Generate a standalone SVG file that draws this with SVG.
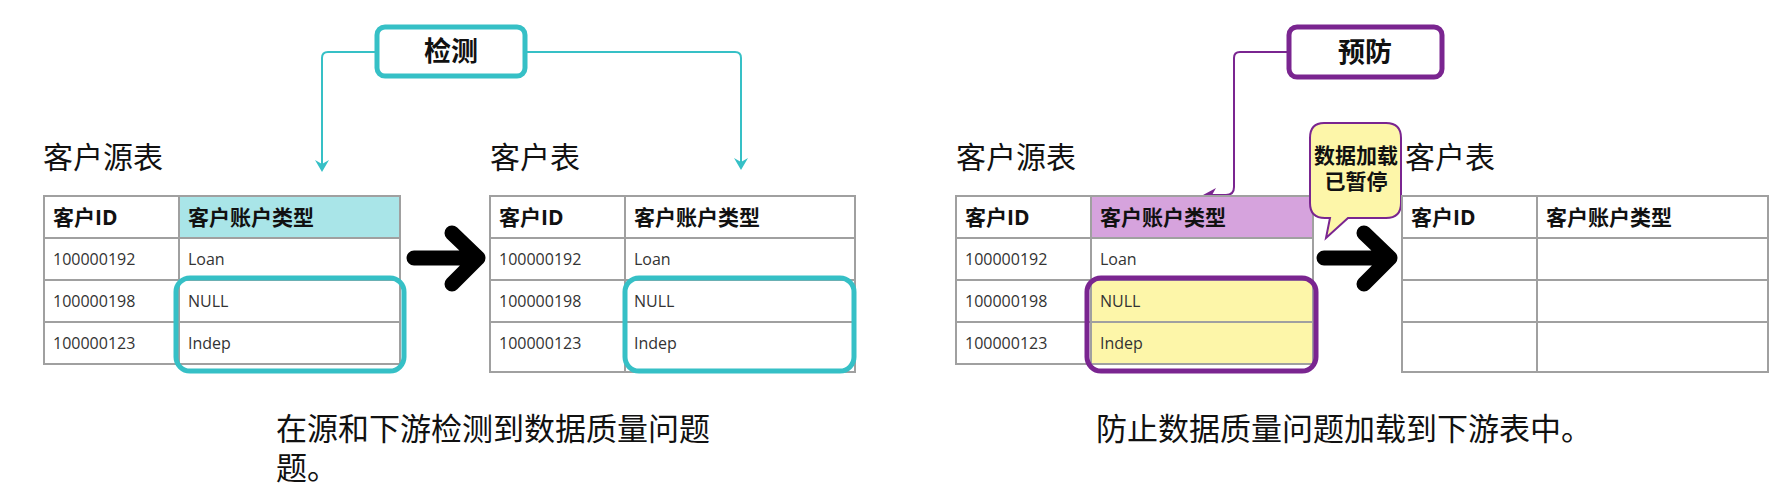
<svg xmlns="http://www.w3.org/2000/svg" width="1782" height="504" viewBox="0 0 1782 504">
<style>
text{font-family:"Open Sans","Noto Sans CJK SC",sans-serif;fill:#111}
.t{font-size:30px}
.h{font-size:21px;font-weight:bold}
.c{font-size:16px;fill:#333}
.cap{font-size:31px}
.grid{fill:none;stroke:#a0a0a0;stroke-width:2}
.big{fill:none;stroke:#000;stroke-width:15;stroke-linecap:round;stroke-linejoin:round}
.cy{stroke:#36c0c6;fill:none}
.pu{stroke:#7a2590;fill:none}
</style>
<rect width="1782" height="504" fill="#fff"/>
<g id="connectors">
<path class="cy" stroke-width="2" d="M375,52 H328 Q322,52 322,58 V168"/>
<path d="M315,160 L322,172 L329,160 L322,164z" fill="#36c0c6"/>
<path class="cy" stroke-width="2" d="M527,52 H735 Q741,52 741,58 V166"/>
<path d="M734,158 L741,170 L748,158 L741,162z" fill="#36c0c6"/>
<path class="pu" stroke-width="2" d="M1287,52 H1240 Q1234,52 1234,58 V187 Q1234,195 1226,195 H1210"/>
<path d="M1216,188 L1203,195 L1216,202 L1212,195z" fill="#7a2590"/>
<path class="big" d="M414,258 H476 M452,233 L478,258 L452,284"/>
<path class="big" d="M1324,258 H1388 M1364,233 L1390,258 L1364,284"/>
</g>
<g id="detect">
<rect x="377" y="27" width="148" height="49" rx="8" fill="#fff" stroke="#36c0c6" stroke-width="5"/>
<text x="451" y="61" text-anchor="middle" style="font-size:27px;font-weight:bold">检测</text>
</g>
<g id="src1">
<text class="t" x="43" y="168">客户源表</text>
<rect x="179" y="196" width="221" height="42" fill="#a9e5e8"/>
<path class="grid" d="M44,196 H400 V364 H44 Z M179,196 V364 M44,238 H400 M44,280 H400 M44,322 H400"/>
<text class="h" x="53" y="225">客户ID</text><text class="h" x="188" y="225">客户账户类型</text>
<text class="c" x="53" y="265">100000192</text><text class="c" x="188" y="265">Loan</text>
<text class="c" x="53" y="307">100000198</text><text class="c" x="188" y="307">NULL</text>
<text class="c" x="53" y="349">100000123</text><text class="c" x="188" y="349">Indep</text>
<rect x="176" y="278" width="228" height="93" rx="14" class="cy" stroke-width="5"/>
</g>
<g id="dst1">
<text class="t" x="490" y="168">客户表</text>
<path class="grid" d="M490,196 H855 V372 H490 Z M625,196 V372 M490,238 H855 M490,280 H855 M490,322 H855"/>
<text class="h" x="499" y="225">客户ID</text><text class="h" x="634" y="225">客户账户类型</text>
<text class="c" x="499" y="265">100000192</text><text class="c" x="634" y="265">Loan</text>
<text class="c" x="499" y="307">100000198</text><text class="c" x="634" y="307">NULL</text>
<text class="c" x="499" y="349">100000123</text><text class="c" x="634" y="349">Indep</text>
<rect x="625" y="278" width="229" height="93" rx="14" class="cy" stroke-width="5"/>
</g>
<g id="cap1"><text class="cap" x="276" y="440">在源和下游检测到数据质量问题</text><text class="cap" x="276" y="479">题。</text></g>
<g id="prevent">
<rect x="1289" y="27" width="153" height="50" rx="8" fill="#fff" stroke="#7a2590" stroke-width="5"/>
<text x="1365" y="62" text-anchor="middle" style="font-size:27px;font-weight:bold">预防</text>
</g>
<g id="src2">
<text class="t" x="956" y="168">客户源表</text>
<rect x="1091" y="196" width="222" height="42" fill="#d6a3dd"/>
<rect x="1091" y="280" width="222" height="84" fill="#fdf6a9"/>
<path class="grid" d="M956,196 H1313 V364 H956 Z M1091,196 V364 M956,238 H1313 M956,280 H1313 M956,322 H1313"/>
<text class="h" x="965" y="225">客户ID</text><text class="h" x="1100" y="225">客户账户类型</text>
<text class="c" x="965" y="265">100000192</text><text class="c" x="1100" y="265">Loan</text>
<text class="c" x="965" y="307">100000198</text><text class="c" x="1100" y="307">NULL</text>
<text class="c" x="965" y="349">100000123</text><text class="c" x="1100" y="349">Indep</text>
<rect x="1087" y="278" width="229" height="93" rx="14" class="pu" stroke-width="5"/>
</g>
<g id="bubble">
<path d="M1324,123 H1386 Q1401,123 1401,138 V203 Q1401,218 1386,218 H1348 L1326,238 L1330,218 H1325 Q1310,218 1310,203 V138 Q1310,123 1324,123 Z" fill="#fdf6a9" stroke="#7a2590" stroke-width="2"/>
<text x="1356" y="163" text-anchor="middle" style="font-size:21px;font-weight:bold">数据加载</text>
<text x="1356" y="189" text-anchor="middle" style="font-size:21px;font-weight:bold">已暂停</text>
</g>
<g id="dst2">
<text class="t" x="1405" y="168">客户表</text>
<path class="grid" d="M1402,196 H1768 V372 H1402 Z M1537,196 V372 M1402,238 H1768 M1402,280 H1768 M1402,322 H1768"/>
<text class="h" x="1411" y="225">客户ID</text><text class="h" x="1546" y="225">客户账户类型</text>
</g>
<g id="cap2"><text class="cap" x="1096" y="440">防止数据质量问题加载到下游表中。</text></g>
</svg>
